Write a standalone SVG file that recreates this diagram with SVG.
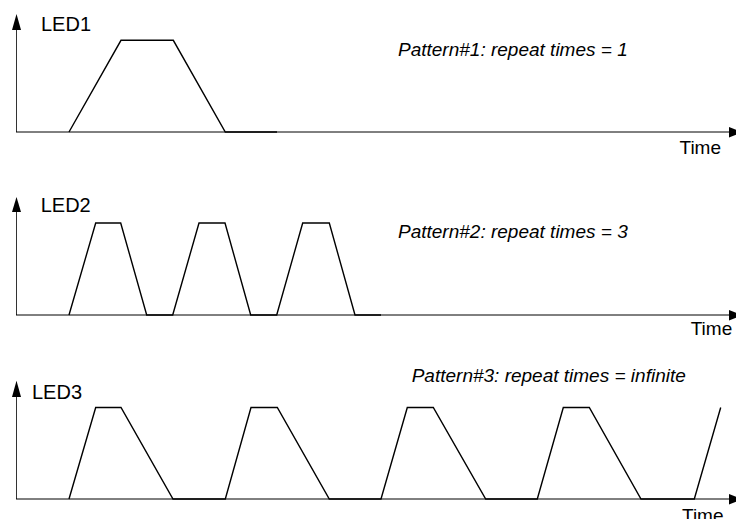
<svg xmlns="http://www.w3.org/2000/svg" width="736" height="519" viewBox="0 0 736 519">
<style>
.axis{stroke:#000;stroke-width:1;fill:none}
.yaxis{stroke:#333;stroke-width:1;fill:none}
.wave{stroke:#000;stroke-width:1.4;fill:none;stroke-linejoin:miter}
.head{fill:#000}
.lbl{font-family:"Liberation Sans",Arial,sans-serif;font-size:20px;fill:#000}
.time{font-family:"Liberation Sans",Arial,sans-serif;font-size:19px;fill:#000}
.pat{font-family:"Liberation Sans",Arial,sans-serif;font-size:19px;font-style:italic;fill:#000}
</style>
<rect width="736" height="519" fill="#fff"/>
<g id="panel1">
  <line class="yaxis" x1="16.5" y1="30" x2="16.5" y2="132"/>
  <polygon class="head" points="16.5,14 12,30 21,30"/>
  <line class="axis" x1="16" y1="132" x2="730" y2="132"/>
  <polygon class="head" points="729,127 729,137.5 742,132.2"/>
  <polyline class="wave" points="69,132 121,40.3 173.3,40.3 225.3,132 277,132"/>
  <text class="lbl" x="41" y="30.5">LED1</text>
  <text class="pat" x="398" y="56">Pattern#1: repeat times = 1</text>
  <text class="time" x="679.5" y="154">Time</text>
</g>
<g id="panel2">
  <line class="yaxis" x1="16.5" y1="212" x2="16.5" y2="315"/>
  <polygon class="head" points="16.5,197 12,212 21,212"/>
  <line class="axis" x1="16" y1="315" x2="730" y2="315"/>
  <polygon class="head" points="729,310 729,320.5 742,315.2"/>
  <polyline class="wave" points="69,315 95.7,223 120.7,223 146.7,315 172.7,315 199,223 225,223 250.7,315 276.7,315 302.7,223 329.3,223 355,315 381,315"/>
  <text class="lbl" x="40.7" y="211.7">LED2</text>
  <text class="pat" x="398" y="238">Pattern#2: repeat times = 3</text>
  <text class="time" x="690.7" y="335">Time</text>
</g>
<g id="panel3">
  <line class="yaxis" x1="16.5" y1="397" x2="16.5" y2="499"/>
  <polygon class="head" points="16.5,380.7 12,397 21,397"/>
  <line class="axis" x1="16" y1="499" x2="730" y2="499"/>
  <polygon class="head" points="729,494 729,504.5 742,499.2"/>
  <polyline class="wave" points="69,499 95.7,407.5 121,407.5 173,499 225.3,499 251,407.5 277.3,407.5 329.3,499 381,499 407.3,407.5 433.3,407.5 485.7,499 537.3,499 563.3,407.5 589.3,407.5 641,499 694.3,499 720.7,407.5"/>
  <text class="lbl" x="32" y="399">LED3</text>
  <text class="pat" x="411.7" y="381.7">Pattern#3: repeat times = infinite</text>
  <text class="time" x="682" y="522">Time</text>
</g>
</svg>
